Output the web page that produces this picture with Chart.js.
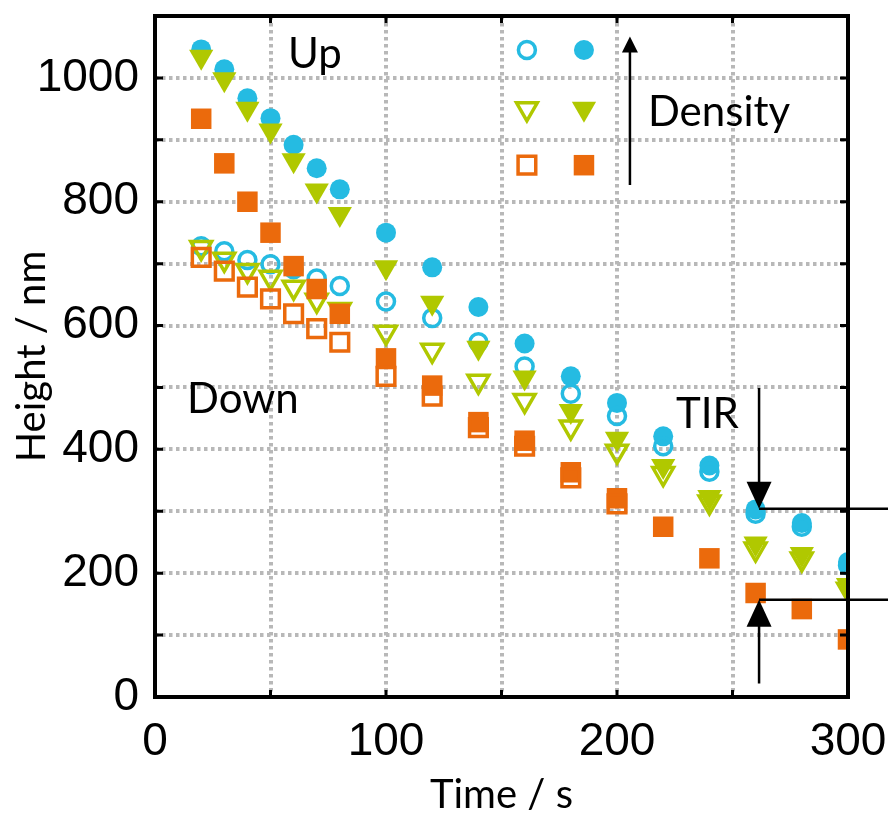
<!DOCTYPE html>
<html>
<head>
<meta charset="utf-8">
<script src="https://cdn.jsdelivr.net/npm/chart.js"></script>
<style>
  body { margin: 0; background: #fff; }
  canvas { display: block; }
</style>
</head>
<body>
<canvas id="myChart" width="888" height="819"></canvas>
<script>
// sampling times (s)
var times = [20, 30, 40, 50, 60, 70, 80, 100, 120, 140, 160, 180, 200, 220, 240, 260, 280, 300];

// heights (nm), filled = "Up", open = "Down"
var circleUp   = [1046, 1014, 967, 935, 892, 854, 820, 750, 694, 630, 571, 518, 475, 421, 374, 303, 281, 218];
var circleDown = [728, 720, 706, 699, 691, 676, 664, 639, 612, 573, 534, 490, 454, 405, 364, 296, 275, 213];
var triUp      = [1034, 998, 950, 915, 867, 818, 780, 694, 637, 564, 516, 462, 417, 373, 323, 248, 231, 181];
var triDown    = [726, 707, 689, 678, 662, 641, 626, 589, 560, 510, 479, 436, 397, 361, 315, 239, 223, 174];
var squareUp   = [934, 862, 800, 750, 696, 659, 619, 547, 503, 444, 414, 363, 321, 275, 224, 168, 142, 93];
var squareDown = [710, 688, 662, 643, 619, 595, 573, 518, 486, 435, 405, 354, 312];

var xTicks = [0, 100, 200, 300];
var yTicks = [0, 200, 400, 600, 800, 1000];

var blue = '#25bbe2';
var green = '#b0c800';
var orange = '#eb6a0c';

function pts(values) {
    return values.map(function (v, i) { return { x: times[i], y: v }; });
}

var filledStyle = {
    circle:   { pointStyle: 'circle',   pointRadius: 10,   rotation: 0 },
    triangle: { pointStyle: 'triangle', pointRadius: 14,   rotation: 180 },
    rect:     { pointStyle: 'rect',     pointRadius: 14.5, rotation: 0 }
};
var openStyle = {
    circle:   { pointStyle: 'circle',   pointRadius: 8.5, rotation: 0 },
    triangle: { pointStyle: 'triangle', pointRadius: 12,  rotation: 180 },
    rect:     { pointStyle: 'rect',     pointRadius: 12.5, rotation: 0 }
};
var openWidth = 3.5;

function makeSet(label, values, shape, color, filled) {
    var s = filled ? filledStyle[shape] : openStyle[shape];
    return {
        label: label,
        data: pts(values),
        showLine: false,
        pointStyle: s.pointStyle,
        pointRadius: s.pointRadius,
        pointHoverRadius: s.pointRadius,
        rotation: s.rotation,
        backgroundColor: filled ? color : 'rgba(255,255,255,0)',
        borderColor: color,
        borderWidth: filled ? 0 : openWidth,
        pointBorderWidth: filled ? 0 : openWidth
    };
}

// frame, inward ticks, labels and arrows
var decorations = {
    id: 'decorations',
    afterDraw: function (chart) {
        var ctx = chart.ctx;
        var a = chart.chartArea;
        var xs = chart.scales.x, ys = chart.scales.y;
        var X = function (v) { return xs.getPixelForValue(v); };
        var Y = function (v) { return ys.getPixelForValue(v); };

        ctx.save();
        ctx.strokeStyle = '#000';
        ctx.fillStyle = '#000';

        // inward ticks
        ctx.lineWidth = 3;
        ctx.beginPath();
        for (var v = 100; v < 1100; v += 100) {
            ctx.moveTo(a.left, Y(v)); ctx.lineTo(a.left + 8, Y(v));
            ctx.moveTo(a.right, Y(v)); ctx.lineTo(a.right - 8, Y(v));
        }
        for (var t = 50; t < 300; t += 50) {
            ctx.moveTo(X(t), a.top); ctx.lineTo(X(t), a.top + 7);
            ctx.moveTo(X(t), a.bottom); ctx.lineTo(X(t), a.bottom - 7);
        }
        ctx.stroke();

        // frame
        ctx.lineWidth = 4;
        ctx.strokeRect(a.left, a.top, a.right - a.left, a.bottom - a.top);

        // text labels
        ctx.font = '42px Lato';
        ctx.textAlign = 'left';
        ctx.textBaseline = 'alphabetic';
        ctx.fillText('Up', X(57.6), Y(1016));
        ctx.fillText('Down', X(13.9), Y(459));
        ctx.fillText('TIR', X(225.5), Y(435));
        ctx.fillText('Density', X(213.4), Y(923));

        // density arrow
        ctx.lineWidth = 2.5;
        ctx.beginPath();
        ctx.moveTo(X(205.6), Y(827));
        ctx.lineTo(X(205.6), Y(1045));
        ctx.stroke();
        arrowHead(ctx, X(205.6), Y(1067), 16, 16, -1);

        // TIR arrows
        var tx = X(261.5);
        ctx.beginPath();
        ctx.moveTo(tx, Y(499)); ctx.lineTo(tx, Y(330));
        ctx.moveTo(tx, Y(304)); ctx.lineTo(chart.width, Y(304));
        ctx.moveTo(tx, Y(157)); ctx.lineTo(chart.width, Y(157));
        ctx.moveTo(tx, Y(22)); ctx.lineTo(tx, Y(130));
        ctx.stroke();
        arrowHead(ctx, tx, Y(304), 25, 27, 1);
        arrowHead(ctx, tx, Y(157), 25, 27, -1);

        // key of marker styles
        var cols = [161, 185.7];
        var rows = [[1045, 'circle', blue], [950, 'triangle', green], [859, 'rect', orange]];
        rows.forEach(function (r) {
            [openStyle, filledStyle].forEach(function (styles, i) {
                var s = styles[r[1]];
                ctx.fillStyle = i === 0 ? 'rgba(255,255,255,0)' : r[2];
                ctx.strokeStyle = r[2];
                ctx.lineWidth = openWidth;
                Chart.helpers.drawPoint(ctx, {
                    pointStyle: s.pointStyle,
                    radius: s.pointRadius,
                    rotation: s.rotation,
                    borderWidth: i === 0 ? openWidth : 0
                }, X(cols[i]), Y(r[0]));
            });
        });
        ctx.restore();
    }
};

// dir 1 = pointing down, -1 = pointing up; (x, y) is the tip
function arrowHead(ctx, x, y, w, h, dir) {
    ctx.beginPath();
    ctx.moveTo(x, y);
    ctx.lineTo(x - w / 2, y - dir * h);
    ctx.lineTo(x + w / 2, y - dir * h);
    ctx.closePath();
    ctx.fill();
}

// no extra room for the end labels, the frame sits at fixed margins
function noLabelPadding(scale) {
    scale.paddingTop = 0;
    scale.paddingBottom = 0;
    scale.paddingLeft = 0;
    scale.paddingRight = 0;
}

var tickFont = { family: "'Liberation Sans', Arial, sans-serif", size: 46 };
var titleFont = { family: 'Lato', size: 40, lineHeight: 1.2 };

var myChart = document.getElementById('myChart').getContext('2d');
var chart = new Chart(myChart, {
    type: 'scatter',
    data: {
        datasets: [
            makeSet('Down, low density', squareDown, 'rect', orange, false),
            makeSet('Up, low density', squareUp, 'rect', orange, true),
            makeSet('Down, mid density', triDown, 'triangle', green, false),
            makeSet('Up, mid density', triUp, 'triangle', green, true),
            makeSet('Down, high density', circleDown, 'circle', blue, false),
            makeSet('Up, high density', circleUp, 'circle', blue, true)
        ]
    },
    options: {
        responsive: false,
        animation: false,
        layout: { padding: { top: 10, right: 40, left: 0, bottom: 0 } },
        plugins: {
            legend: { display: false },
            tooltip: { enabled: false }
        },
        scales: {
            x: {
                type: 'linear',
                min: 0,
                max: 300,
                grid: { color: '#b8b8b8', lineWidth: 4, drawTicks: false },
                border: { display: false, dash: [3.5, 3.5] },
                afterFit: function (scale) { scale.height = 122; noLabelPadding(scale); },
                ticks: {
                    stepSize: 50,
                    padding: 18,
                    color: '#000',
                    font: tickFont,
                    maxRotation: 0,
                    callback: function (v) { return xTicks.indexOf(v) >= 0 ? String(v) : ''; }
                },
                title: {
                    display: true,
                    text: 'Time / s',
                    color: '#000',
                    font: titleFont,
                    padding: { top: 0, bottom: 0 }
                }
            },
            y: {
                type: 'linear',
                min: 0,
                max: 1100,
                grid: { color: '#b8b8b8', lineWidth: 4, drawTicks: false },
                border: { display: false, dash: [3.5, 3.5] },
                afterFit: function (scale) { scale.width = 155; noLabelPadding(scale); },
                ticks: {
                    stepSize: 100,
                    padding: 16,
                    color: '#000',
                    font: tickFont,
                    callback: function (v) { return yTicks.indexOf(v) >= 0 ? String(v) : ''; }
                },
                title: {
                    display: true,
                    text: 'Height / nm',
                    color: '#000',
                    font: titleFont,
                    padding: { top: 8, bottom: 0 }
                }
            }
        }
    },
    plugins: [decorations]
});
</script>
</body>
</html>
